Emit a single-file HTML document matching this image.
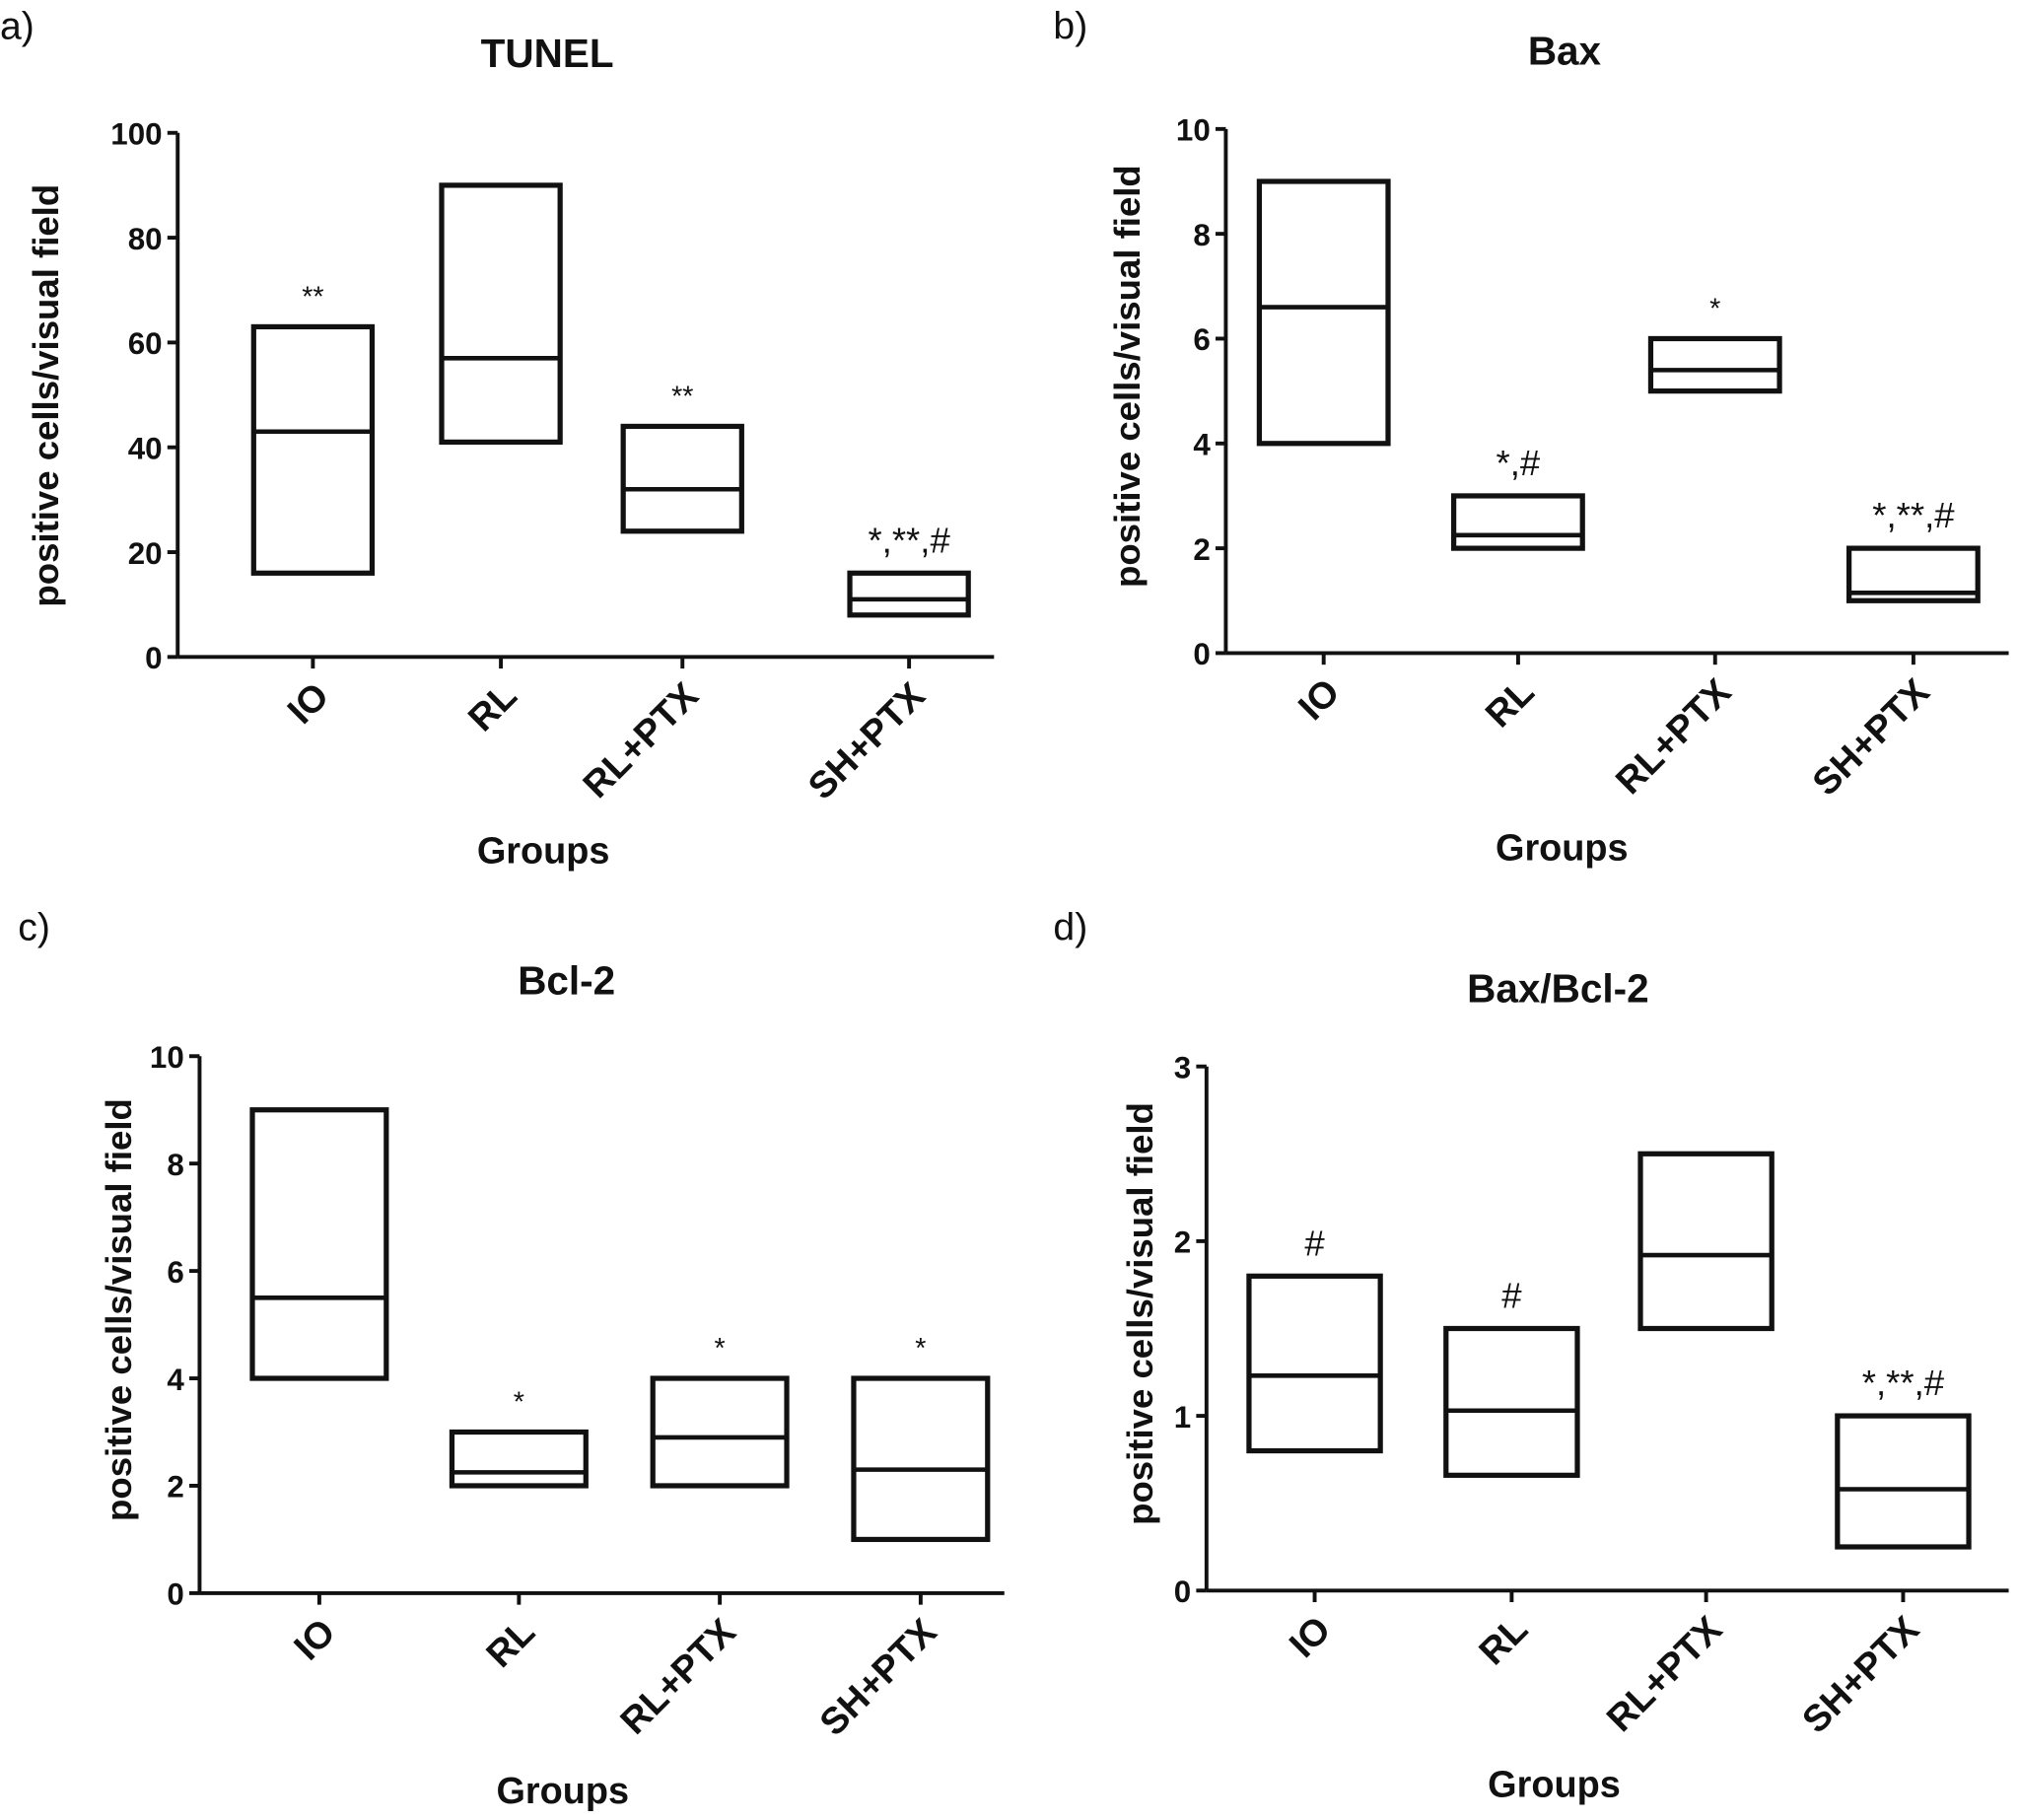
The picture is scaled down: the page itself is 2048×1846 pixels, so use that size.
<!DOCTYPE html>
<html><head><meta charset="utf-8"><style>
html,body{margin:0;padding:0;background:#fff}
svg{display:block}
text{font-family:"Liberation Sans",Arial,sans-serif;fill:#111}
</style></head><body>
<svg id="fig" width="2048" height="1846" viewBox="0 0 1568 1413" xmlns="http://www.w3.org/2000/svg"></svg>
<script>
const groups = ["IO","RL","RL+PTX","SH+PTX"];
const tunelLow = [16,41,24,8], tunelMed = [43,57,32,11], tunelHigh = [63,90,44,16];
const tunelMarks = ["**","","**","*,**,#"];
const baxLow = [4,2,5,1], baxMed = [6.6,2.25,5.4,1.15], baxHigh = [9,3,6,2];
const baxMarks = ["","*,#","*","*,**,#"];
const bclLow = [4,2,2,1], bclMed = [5.5,2.25,2.9,2.3], bclHigh = [9,3,4,4];
const bclMarks = ["","*","*","*"];
const ratioLow = [0.8,0.66,1.5,0.25], ratioMed = [1.23,1.03,1.92,0.58], ratioHigh = [1.8,1.5,2.5,1.0];
const ratioMarks = ["#","#","","*,**,#"];
const tunelTicks = [0,20,40,60,80,100];
const tenTicks = [0,2,4,6,8,10];
const ratioTicks = [0,1,2,3];

const NS = "http://www.w3.org/2000/svg";
const svg = document.getElementById("fig");
function el(tag, attrs, parent, txt){
  const e = document.createElementNS(NS, tag);
  for (const k in attrs) e.setAttribute(k, attrs[k]);
  if (txt !== undefined) e.textContent = txt;
  (parent||svg).appendChild(e);
  return e;
}
function panel(cfg){
  const g = el("g", {});
  
  
  const yMax = cfg.ticks[cfg.ticks.length-1];
  const y = v => cfg.y0 + (cfg.yTop - cfg.y0) * v / yMax;
  const x = i => cfg.xs[i];
  const letter = el("text", {x: cfg.lx, y: cfg.ly, "font-size": 30, "font-family": "Liberation Serif, serif"}, g, cfg.id + ")");
  
  
  const title = el("text", {x: cfg.tx, y: cfg.ty, "font-size": 31, "font-weight": "bold", "text-anchor": "middle"}, g, cfg.title);
  
  
  const ya = el("line", {x1: cfg.ax, x2: cfg.ax, y1: y(yMax), y2: cfg.y0, stroke: "#111", "stroke-width": 3}, g);
  
  
  const xa = el("line", {x1: cfg.ax, x2: cfg.xEnd, y1: cfg.y0, y2: cfg.y0, stroke: "#111", "stroke-width": 3}, g);
  
  
  cfg.ticks.forEach(t => {
    const tk = el("line", {x1: cfg.ax-8, x2: cfg.ax, y1: y(t), y2: y(t), stroke: "#111", "stroke-width": 3}, g);
    
    
    const tl = el("text", {x: cfg.ax-12, y: y(t)+9, "font-size": 24, "font-weight": "bold", "text-anchor": "end"}, g, t);
    
    
  });
  const yl = el("text", {x: 0, y: 0, "font-size": 28, "font-weight": "bold", "text-anchor": "middle",
    transform: "translate(" + (cfg.ylx+10) + "," + cfg.ylc + ") rotate(-90)"}, g, "positive cells/visual field");
  
  
  groups.forEach((name, i) => {
    const tk = el("line", {x1: x(i), x2: x(i), y1: cfg.y0, y2: cfg.y0+9, stroke: "#111", "stroke-width": 3}, g);
    
    
    const xl = el("text", {x: 0, y: 0, "font-size": 29, "font-weight": "bold", "text-anchor": "end",
      transform: "translate(" + (x(i)+14) + "," + (cfg.y0+32) + ") rotate(-45)"}, g, name);
    
    
    const w = cfg.bw, lo = cfg.low[i], hi = cfg.high[i], md = cfg.med[i];
    const box = el("rect", {x: x(i)-w/2, y: y(hi), width: w, height: y(lo)-y(hi), fill: "none", stroke: "#111", "stroke-width": 4}, g);
    
    
    const ml = el("line", {x1: x(i)-w/2, x2: x(i)+w/2, y1: y(md), y2: y(md), stroke: "#111", "stroke-width": 3.5}, g);
    
    
    if (cfg.marks[i]) {
      const big = cfg.marks[i].indexOf('#') >= 0;
      const mk = el("text", {x: x(i), y: y(hi) - 16, "font-size": big ? 28 : 22, "text-anchor": "middle", "font-family": "Liberation Sans, sans-serif"}, g, cfg.marks[i]);
      
      
    }
  });
  const gl = el("text", {x: cfg.gx, y: cfg.gy, "font-size": 29, "font-weight": "bold", "text-anchor": "middle"}, g, "Groups");
  
  
}
panel({id:"a", title:"TUNEL", lx:0, ly:30, tx:425, ty:52, ax:138, xEnd:772, y0:510, yTop:103, ticks:tunelTicks, ylx:35, ylc:307,
  xs:[243,389,530,706], bw:92, low:tunelLow, med:tunelMed, high:tunelHigh, marks:tunelMarks, gx:422, gy:670});
panel({id:"b", title:"Bax", lx:818, ly:30, tx:1215, ty:50, ax:952, xEnd:1560, y0:507, yTop:100, ticks:tenTicks, ylx:875, ylc:292,
  xs:[1028,1179,1332,1486], bw:100, low:baxLow, med:baxMed, high:baxHigh, marks:baxMarks, gx:1213, gy:668});
panel({id:"c", title:"Bcl-2", lx:14, ly:730, tx:440, ty:772, ax:155, xEnd:780, y0:1237, yTop:820, ticks:tenTicks, ylx:92, ylc:1017,
  xs:[248,403,559,715], bw:104, low:bclLow, med:bclMed, high:bclHigh, marks:bclMarks, gx:437, gy:1400});
panel({id:"d", title:"Bax/Bcl-2", lx:818, ly:730, tx:1210, ty:778, ax:937, xEnd:1560, y0:1235, yTop:828, ticks:ratioTicks, ylx:885, ylc:1020,
  xs:[1021,1174,1325,1478], bw:102, low:ratioLow, med:ratioMed, high:ratioHigh, marks:ratioMarks, gx:1207, gy:1395});
</script>
</body></html>
